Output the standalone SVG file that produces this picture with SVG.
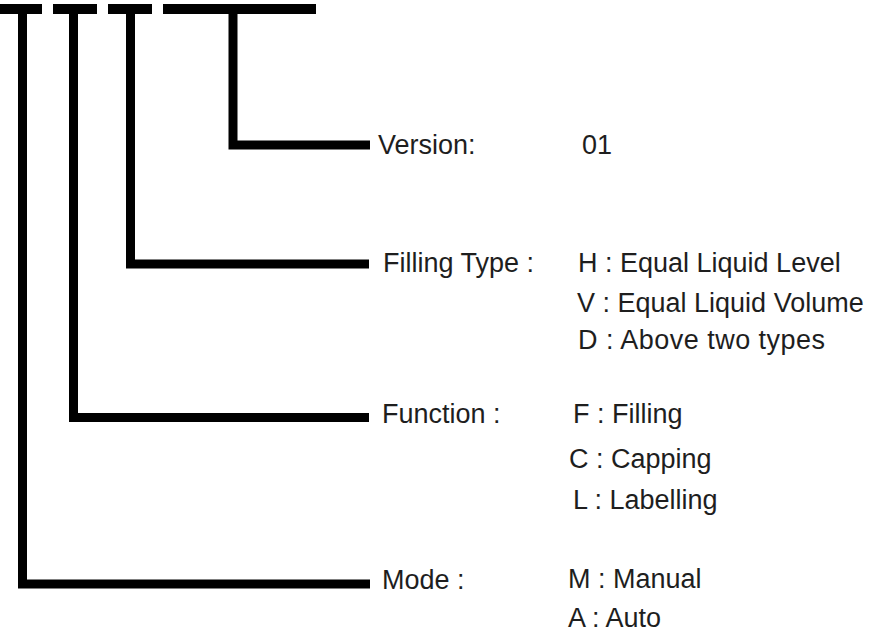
<svg xmlns="http://www.w3.org/2000/svg" width="874" height="640" viewBox="0 0 874 640">
  <style>
    .bar { fill: #000; }
    .conn { fill: none; stroke: #000; stroke-width: 9; stroke-linejoin: miter; stroke-linecap: butt; }
    text { font-family: "Liberation Sans", Arial, sans-serif; font-size: 27px; fill: #1e1e1e; }
  </style>
  <rect width="874" height="640" fill="#ffffff"/>
  <g id="code-bars">
    <rect class="bar" x="0" y="4" width="42" height="10"/>
    <rect class="bar" x="53" y="4" width="44" height="10"/>
    <rect class="bar" x="108" y="4" width="44" height="10"/>
    <rect class="bar" x="163" y="4" width="153" height="10"/>
  </g>
  <g id="connectors">
    <path class="conn" d="M233,9 V145 H370"/>
    <path class="conn" d="M130.5,9 V264 H369"/>
    <path class="conn" d="M73.5,9 V417.5 H369"/>
    <path class="conn" d="M22.5,9 V584 H370"/>
  </g>
  <g id="version">
    <text x="378" y="154">Version:</text>
    <text x="582" y="154">01</text>
  </g>
  <g id="filling-type">
    <text x="383" y="272">Filling Type :</text>
    <text x="578" y="272">H : Equal Liquid Level</text>
    <text x="577" y="312">V : Equal Liquid Volume</text>
    <text x="578" y="349" textLength="247" lengthAdjust="spacing">D : Above two types</text>
  </g>
  <g id="function">
    <text x="382" y="423">Function :</text>
    <text x="573" y="423">F : Filling</text>
    <text x="569" y="468">C : Capping</text>
    <text x="573" y="509">L : Labelling</text>
  </g>
  <g id="mode">
    <text x="382" y="589">Mode :</text>
    <text x="568" y="588">M : Manual</text>
    <text x="568" y="627">A : Auto</text>
  </g>
</svg>
